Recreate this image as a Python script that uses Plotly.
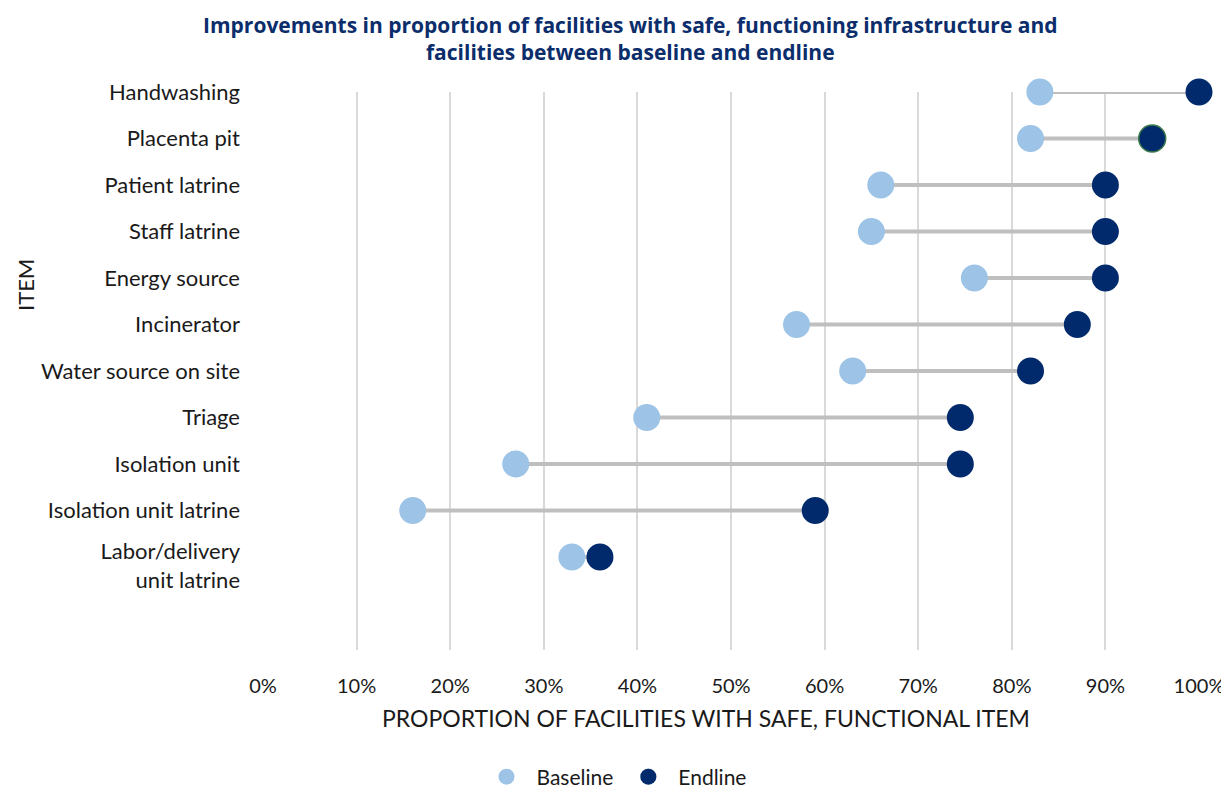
import plotly.graph_objects as go

items = ["Handwashing", "Placenta pit", "Patient latrine", "Staff latrine", "Energy source",
         "Incinerator", "Water source on site", "Triage", "Isolation unit",
         "Isolation unit latrine", "Labor/delivery<br>unit latrine"]
baseline = [83, 82, 66, 65, 76, 57, 63, 41, 27, 16, 33]
endline = [100, 95, 90, 90, 90, 87, 82, 74.5, 74.5, 59, 36]
ypos = [12, 11, 10, 9, 8, 7, 6, 5, 4, 3, 2]
xticks = [0, 10, 20, 30, 40, 50, 60, 70, 80, 90, 100]
xticklabels = [f"{v}%" for v in xticks]

FONT = "Lato, 'Open Sans', sans-serif"
LIGHT = "#9DC3E6"
DARK = "#002A6C"

# page body adds an 8px offset; figure coords are screen coords minus 8
W, H = 1221, 781
OFF = 8
PL, PR, PT, PB = 263 - OFF, 1199 - OFF, 92 - OFF, 650 - OFF

def px(xs):
    return (xs - OFF - PL) / (PR - PL)

def py(ys):
    return (PB - (ys - OFF)) / (PB - PT)

# wrapped (two-line) category label sits a little below its row, as in the original
label_pos = [y - (0.19 if "<br>" in t else 0) for y, t in zip(ypos, items)]

lx, ly = [], []
for b, e, y in zip(baseline, endline, ypos):
    lx += [b, e, None]
    ly += [y, y, None]

fig = go.Figure()
fig.add_trace(go.Scatter(x=lx, y=ly, mode="lines", line=dict(color="#BFBFBF", width=4),
                         showlegend=False, hoverinfo="skip", cliponaxis=False))
fig.add_trace(go.Scatter(x=baseline, y=ypos, mode="markers", name="Baseline",
                         marker=dict(color=LIGHT, size=27, line=dict(width=0)), cliponaxis=False))
end_line_colors = [DARK] * len(endline)
end_line_colors[1] = "#3A7A4A"
end_line_widths = [0] * len(endline)
end_line_widths[1] = 1.5
fig.add_trace(go.Scatter(x=endline, y=ypos, mode="markers", name="Endline",
                         marker=dict(color=DARK, size=27,
                                     line=dict(color=end_line_colors, width=end_line_widths)),
                         cliponaxis=False))

fig.update_layout(
    width=W, height=H,
    margin=dict(l=PL, r=W - PR, t=PT, b=H - PB, autoexpand=False),
    paper_bgcolor="white", plot_bgcolor="white",
    font=dict(family=FONT, size=22, color="#1a1a1a"),
    xaxis=dict(range=[0, 100], tickvals=xticks, ticktext=xticklabels, automargin=False,
               showgrid=True, gridcolor="#D9D9D9", gridwidth=1.5, zeroline=False,
               showline=False, ticks="", ticklabelstandoff=22,
               tickfont=dict(size=20, color="#1a1a1a")),
    yaxis=dict(range=[0, 12], tickvals=label_pos, ticktext=items, showgrid=False, zeroline=False,
               showline=False, ticks="", ticklabelstandoff=22, automargin=False,
               tickfont=dict(size=22, color="#1a1a1a")),
    showlegend=True,
    legend=dict(orientation="h", x=px(614), xanchor="center", y=py(777), yanchor="middle",
                font=dict(size=21, color="#1a1a1a"), itemsizing="trace", itemwidth=50,
                tracegroupgap=0),
    annotations=[
        dict(text="<b>Improvements in proportion of facilities with safe, functioning infrastructure and<br>facilities between baseline and endline</b>",
             xref="paper", yref="paper", x=px(630), y=py(38), xanchor="center", yanchor="middle",
             showarrow=False, font=dict(family="'Open Sans', Lato, sans-serif", size=21, color="#0B2D6B")),
        dict(text="PROPORTION OF FACILITIES WITH SAFE, FUNCTIONAL ITEM", xref="paper", yref="paper",
             x=px(706), y=py(718), xanchor="center", yanchor="middle",
             showarrow=False, font=dict(size=23, color="#1a1a1a")),
        dict(text="ITEM", xref="paper", yref="paper", x=px(25), y=py(285),
             xanchor="center", yanchor="middle", textangle=-90, showarrow=False,
             font=dict(size=22, color="#1a1a1a")),
    ],
)

fig.write_html("out.html")
